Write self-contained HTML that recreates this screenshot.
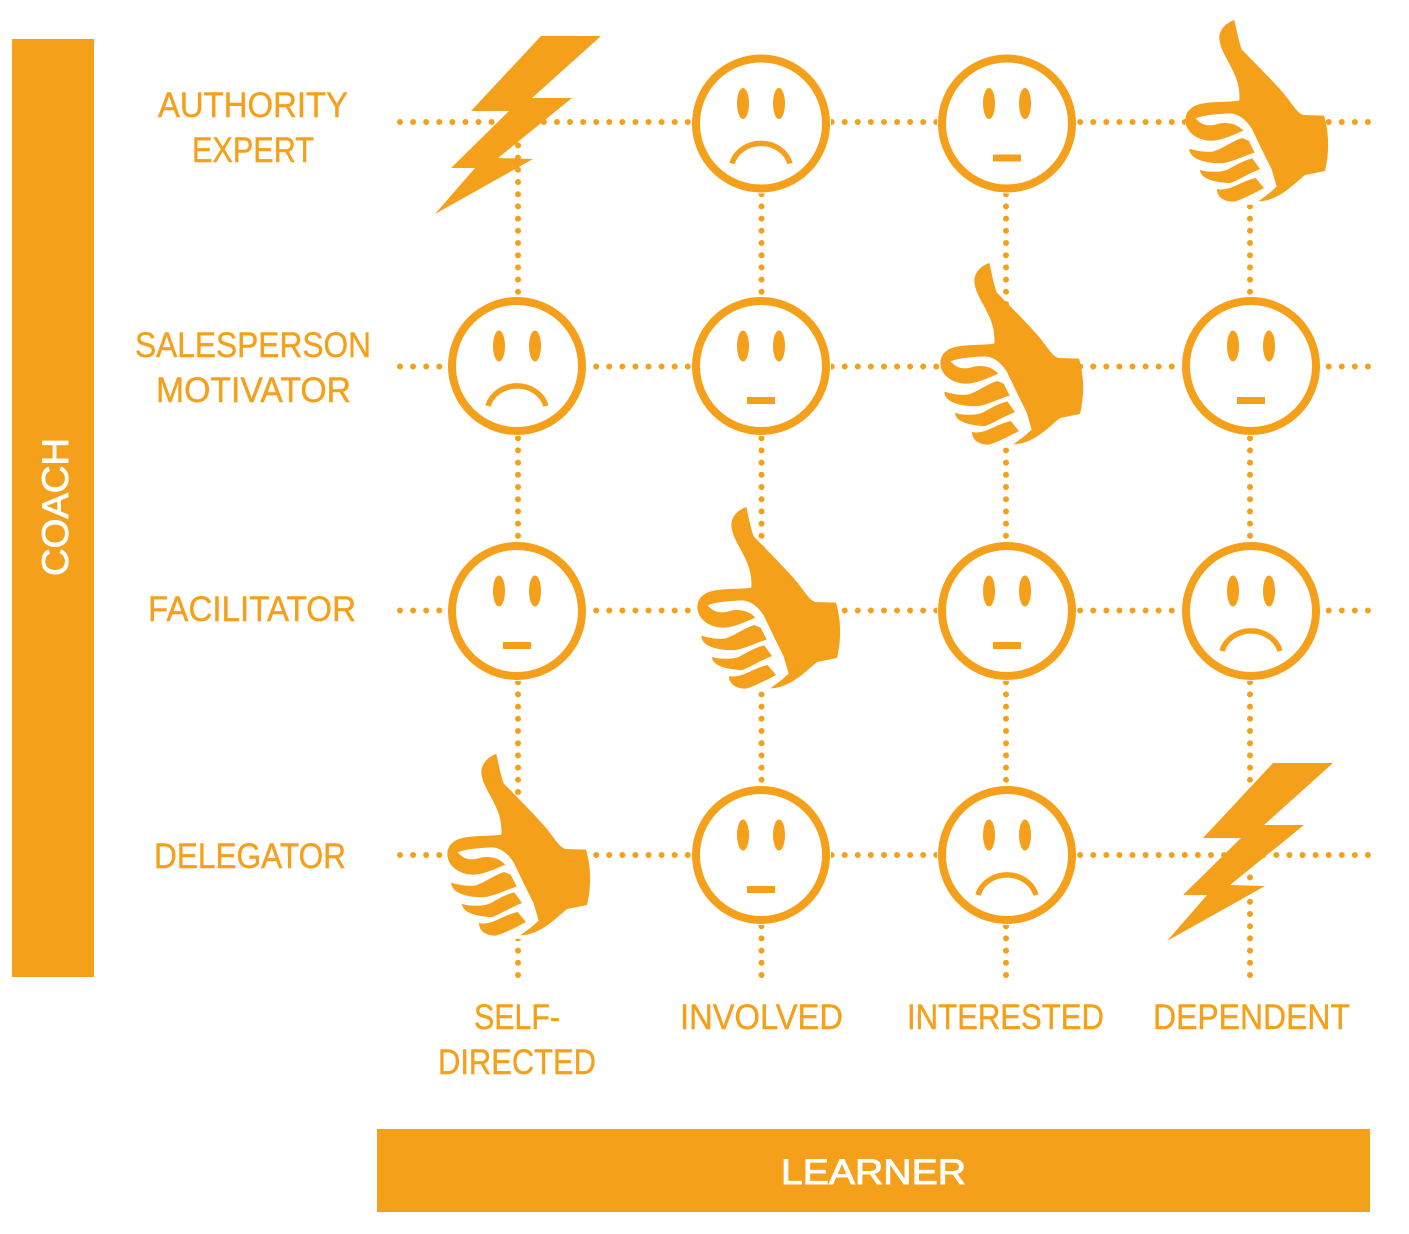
<!DOCTYPE html>
<html>
<head>
<meta charset="utf-8">
<style>
html,body{margin:0;padding:0;background:#fff}
svg{display:block}
text{font-family:"Liberation Sans",sans-serif;font-size:35px;fill:#F5A01A;stroke:#F5A01A;stroke-width:.4}
text.w{fill:#fff;stroke:#fff;stroke-width:.9}
.h{stroke:#F5A01A;stroke-width:6;stroke-linecap:round;stroke-dasharray:0 13.08;fill:none}
.v{stroke:#F5A01A;stroke-width:6;stroke-linecap:round;stroke-dasharray:0 12.2;fill:none}
</style>
</head>
<body>
<svg width="1409" height="1234" viewBox="0 0 1409 1234" xmlns="http://www.w3.org/2000/svg">
<defs>
<g id="face">
<circle r="70" fill="#fff"/>
<circle r="65" fill="#fff" stroke="#F5A01A" stroke-width="8"/>
<ellipse cx="-18" cy="-20" rx="6" ry="15.5" fill="#F5A01A"/>
<ellipse cx="18" cy="-20" rx="6" ry="15.5" fill="#F5A01A"/>
</g>
<g id="sad">
<use href="#face"/>
<path d="M-29 40 A30 27 0 0 1 29 40" fill="none" stroke="#F5A01A" stroke-width="5.5"/>
</g>
<g id="neutral">
<use href="#face"/>
<rect x="-14" y="31" width="28" height="7" fill="#F5A01A"/>
</g>
<polygon id="bolt" fill="#F5A01A" points="541,36 601,36 532,98 572,98 498,158 533,159 435,214 475,168 451,168 509,111 471,111"/>
<g id="thumb">
<g transform="translate(1170,10) scale(0.3333)" fill="#F5A01A">
<path fill="#fff" d="M50 300 L38 420 L85 490 L135 582 L275 585 L330 500 L250 300Z"/>
<path d="M193 30 C165 40 148 60 148 85 C150 120 175 150 190 185 C205 215 210 245 208 272 C170 278 100 272 70 290 C45 305 42 330 50 350 C62 378 95 394 130 392 C160 389 192 374 220 362 C205 345 180 336 150 340 C125 348 100 352 77 325 C100 315 140 312 180 310 C205 312 225 325 245 355 L280 428 L305 478 L320 530 L300 548 L265 574 C300 574 335 555 370 525 L405 495 L465 483 C478 430 478 370 462 317 L400 315 C385 310 375 295 360 275 C340 245 290 195 215 118 C205 90 200 60 193 30Z"/>
<path d="M58 416 C85 424 112 428 132 424 C160 414 190 392 216 384 L236 392 L254 428 C225 436 192 454 162 459 C120 462 58 452 58 416Z"/>
<path d="M90 480 C115 487 150 487 170 480 C190 470 215 453 247 445 L270 477 C238 490 208 508 182 519 C150 519 90 510 90 480Z"/>
<path d="M141 537 C160 542 180 536 210 521 C225 514 240 508 257 504 L282 534 C252 550 212 570 192 575 C165 575 141 564 141 537Z"/>
</g>
</g>
</defs>

<rect x="12" y="39" width="82" height="938" fill="#F5A01A"/>
<rect x="377" y="1129" width="993" height="83" fill="#F5A01A"/>

<path class="h" d="M400 122H1370"/>
<path class="h" d="M400 366.500H1370"/>
<path class="h" d="M400 610.500H1370"/>
<path class="h" d="M400 855H1370"/>
<path class="v" d="M518 975V140"/>
<path class="v" d="M761.500 975V140"/>
<path class="v" d="M1006 975V140"/>
<path class="v" d="M1250 975V140"/>

<use href="#sad" x="761" y="123.500"/>
<use href="#neutral" x="1007" y="123.500"/>
<use href="#bolt"/>
<use href="#thumb"/>

<use href="#sad" x="517" y="366"/>
<use href="#neutral" x="761" y="366"/>
<use href="#thumb" x="-245" y="243"/>
<use href="#neutral" x="1251" y="366"/>

<use href="#neutral" x="517" y="611"/>
<use href="#thumb" x="-488" y="487"/>
<use href="#neutral" x="1007" y="611"/>
<use href="#sad" x="1251" y="611"/>

<use href="#thumb" x="-738" y="734"/>
<use href="#neutral" x="761" y="855"/>
<use href="#sad" x="1007" y="855"/>
<use href="#bolt" x="732" y="727"/>

<text x="158" y="117" textLength="190" lengthAdjust="spacingAndGlyphs">AUTHORITY</text>
<text x="192" y="162" textLength="122" lengthAdjust="spacingAndGlyphs">EXPERT</text>
<text x="135" y="357" textLength="236" lengthAdjust="spacingAndGlyphs">SALESPERSON</text>
<text x="156" y="402" textLength="195" lengthAdjust="spacingAndGlyphs">MOTIVATOR</text>
<text x="148" y="621" textLength="208" lengthAdjust="spacingAndGlyphs">FACILITATOR</text>
<text x="154" y="868" textLength="192" lengthAdjust="spacingAndGlyphs">DELEGATOR</text>

<text x="474" y="1029" textLength="86" lengthAdjust="spacingAndGlyphs">SELF-</text>
<text x="438" y="1074" textLength="158" lengthAdjust="spacingAndGlyphs">DIRECTED</text>
<text x="680" y="1029" textLength="163" lengthAdjust="spacingAndGlyphs">INVOLVED</text>
<text x="907" y="1029" textLength="197" lengthAdjust="spacingAndGlyphs">INTERESTED</text>
<text x="1153" y="1029" textLength="197" lengthAdjust="spacingAndGlyphs">DEPENDENT</text>

<text class="w" x="781" y="1184" textLength="185" lengthAdjust="spacingAndGlyphs">LEARNER</text>
<text class="w" style="font-size:37px" transform="translate(68,576) rotate(-90)" x="0" y="0" textLength="138" lengthAdjust="spacingAndGlyphs">COACH</text>
</svg>
</body>
</html>
